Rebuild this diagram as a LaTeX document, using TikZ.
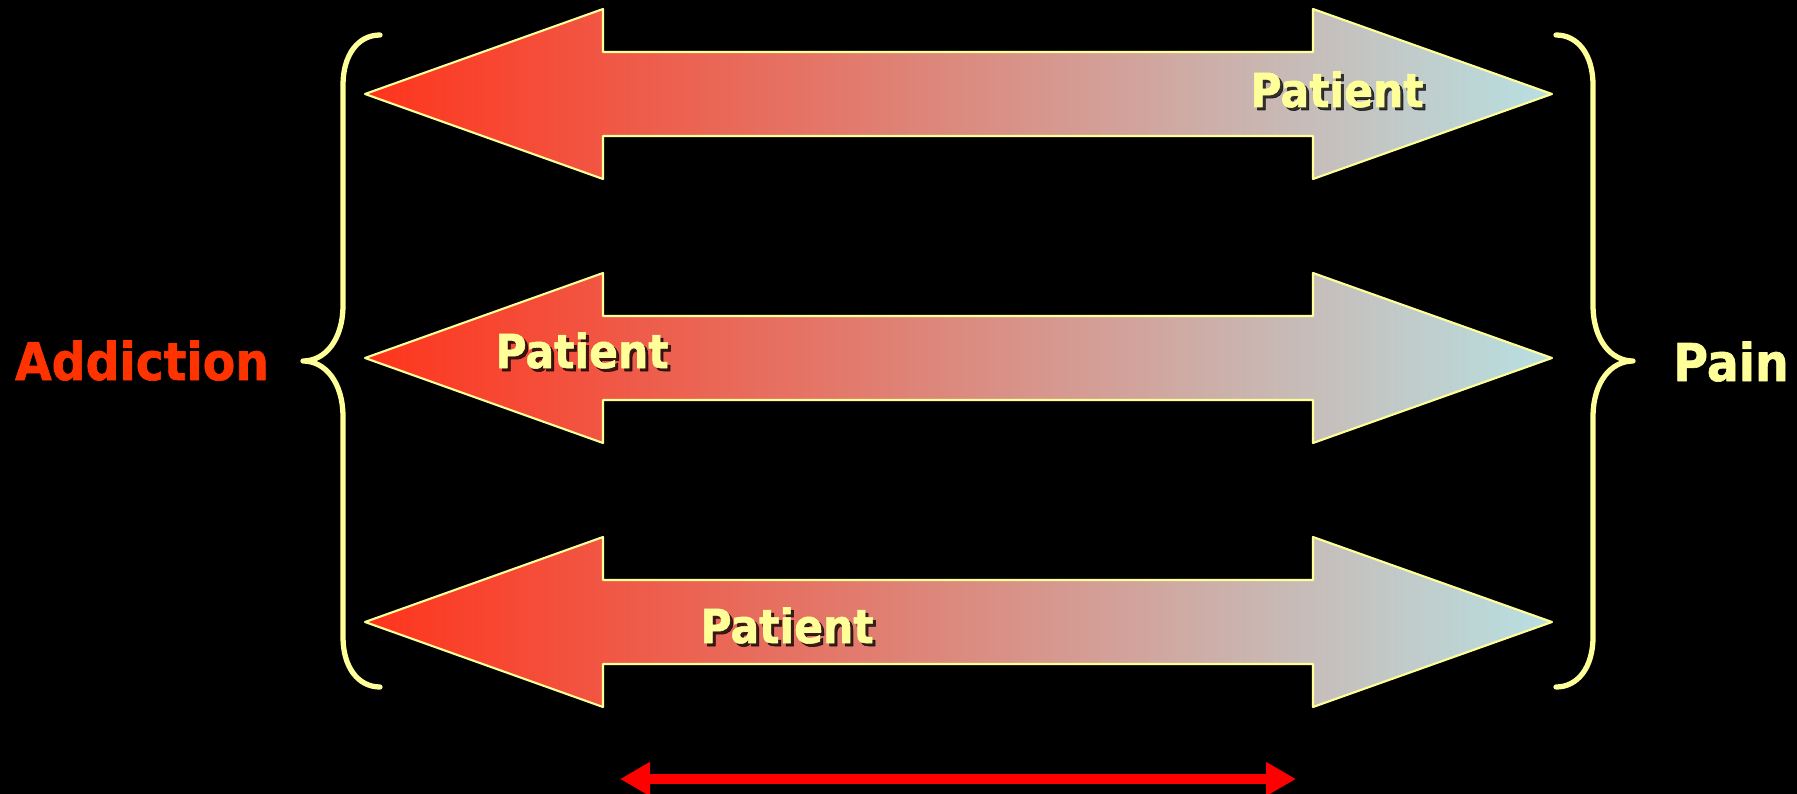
\documentclass[tikz,border=0pt]{standalone}
\usepackage{fontspec}
\newfontfamily\labelfont[FakeStretch=0.91,FakeBold=1.2]{DejaVu Sans}
\usetikzlibrary{arrows.meta}
\definecolor{hotred}{RGB}{255,51,0}
\definecolor{paleyellow}{RGB}{255,255,153}
\definecolor{tipred}{RGB}{255,52,28}
\definecolor{midpink}{RGB}{228,162,160}
\definecolor{icecyan}{RGB}{184,224,226}

\begin{document}
\begin{tikzpicture}[x=0.01cm, y=-0.01cm, line cap=round, line join=round,
  bigarrow/.style={draw=paleyellow, line width=0.6pt,
    left color=tipred, middle color=midpink, right color=icecyan},
  brace/.style={draw=paleyellow, line width=1.5pt},
  side/.style={font=\labelfont\bfseries\fontsize{14.8pt}{18pt}\selectfont,
    anchor=base, inner sep=0pt},
  patient/.style={font=\labelfont\bfseries\fontsize{13.3pt}{16pt}\selectfont,
    anchor=base, inner sep=0pt, text=paleyellow},
  patientshadow/.style={patient, text=black, opacity=0.75}]
\fill [black] (0,0) rectangle (1797,794);
\useasboundingbox (0,0) rectangle (1797,794);

% three double arrows
\foreach \y in {94,358,622}
  \draw [bigarrow] (365,\y) -- (603,\y-85) -- (603,\y-42) -- (1313,\y-42)
    -- (1313,\y-85) -- (1552,\y) -- (1313,\y+85) -- (1313,\y+42)
    -- (603,\y+42) -- (603,\y+85) -- cycle;

% braces
\draw [brace] (380,35) .. controls (358,35) and (343,55) .. (343,85) -- (343,305)
  .. controls (343,340) and (325,361) .. (303,361)
  .. controls (325,361) and (343,382) .. (343,417) -- (343,637)
  .. controls (343,667) and (358,687) .. (380,687);
\draw [brace] (1556,35) .. controls (1578,35) and (1593,55) .. (1593,85) -- (1593,305)
  .. controls (1593,340) and (1611,361) .. (1633,361)
  .. controls (1611,361) and (1593,382) .. (1593,417) -- (1593,637)
  .. controls (1593,667) and (1578,687) .. (1556,687);

\node [side, text=hotred] (addiction) at (142,380) {Addiction};
\node [side, text=paleyellow] (pain) at (1731,381) {Pain};

\foreach \n/\x/\y in {top/1337/107, mid/582/368, low/787/643} {
  \node [patientshadow] (\n shadow) at (\x+3,\y+3) {Patient};
  \node [patient] (\n) at (\x,\y) {Patient};
}

% range
\coordinate (range west) at (620,779);
\coordinate (range east) at (1296,779);
\draw [red, line width=1mm, {Triangle[length=3mm,width=3.2mm]}-{Triangle[length=3mm,width=3.2mm]}]
  (range west) -- (range east);
\end{tikzpicture}
\end{document}
